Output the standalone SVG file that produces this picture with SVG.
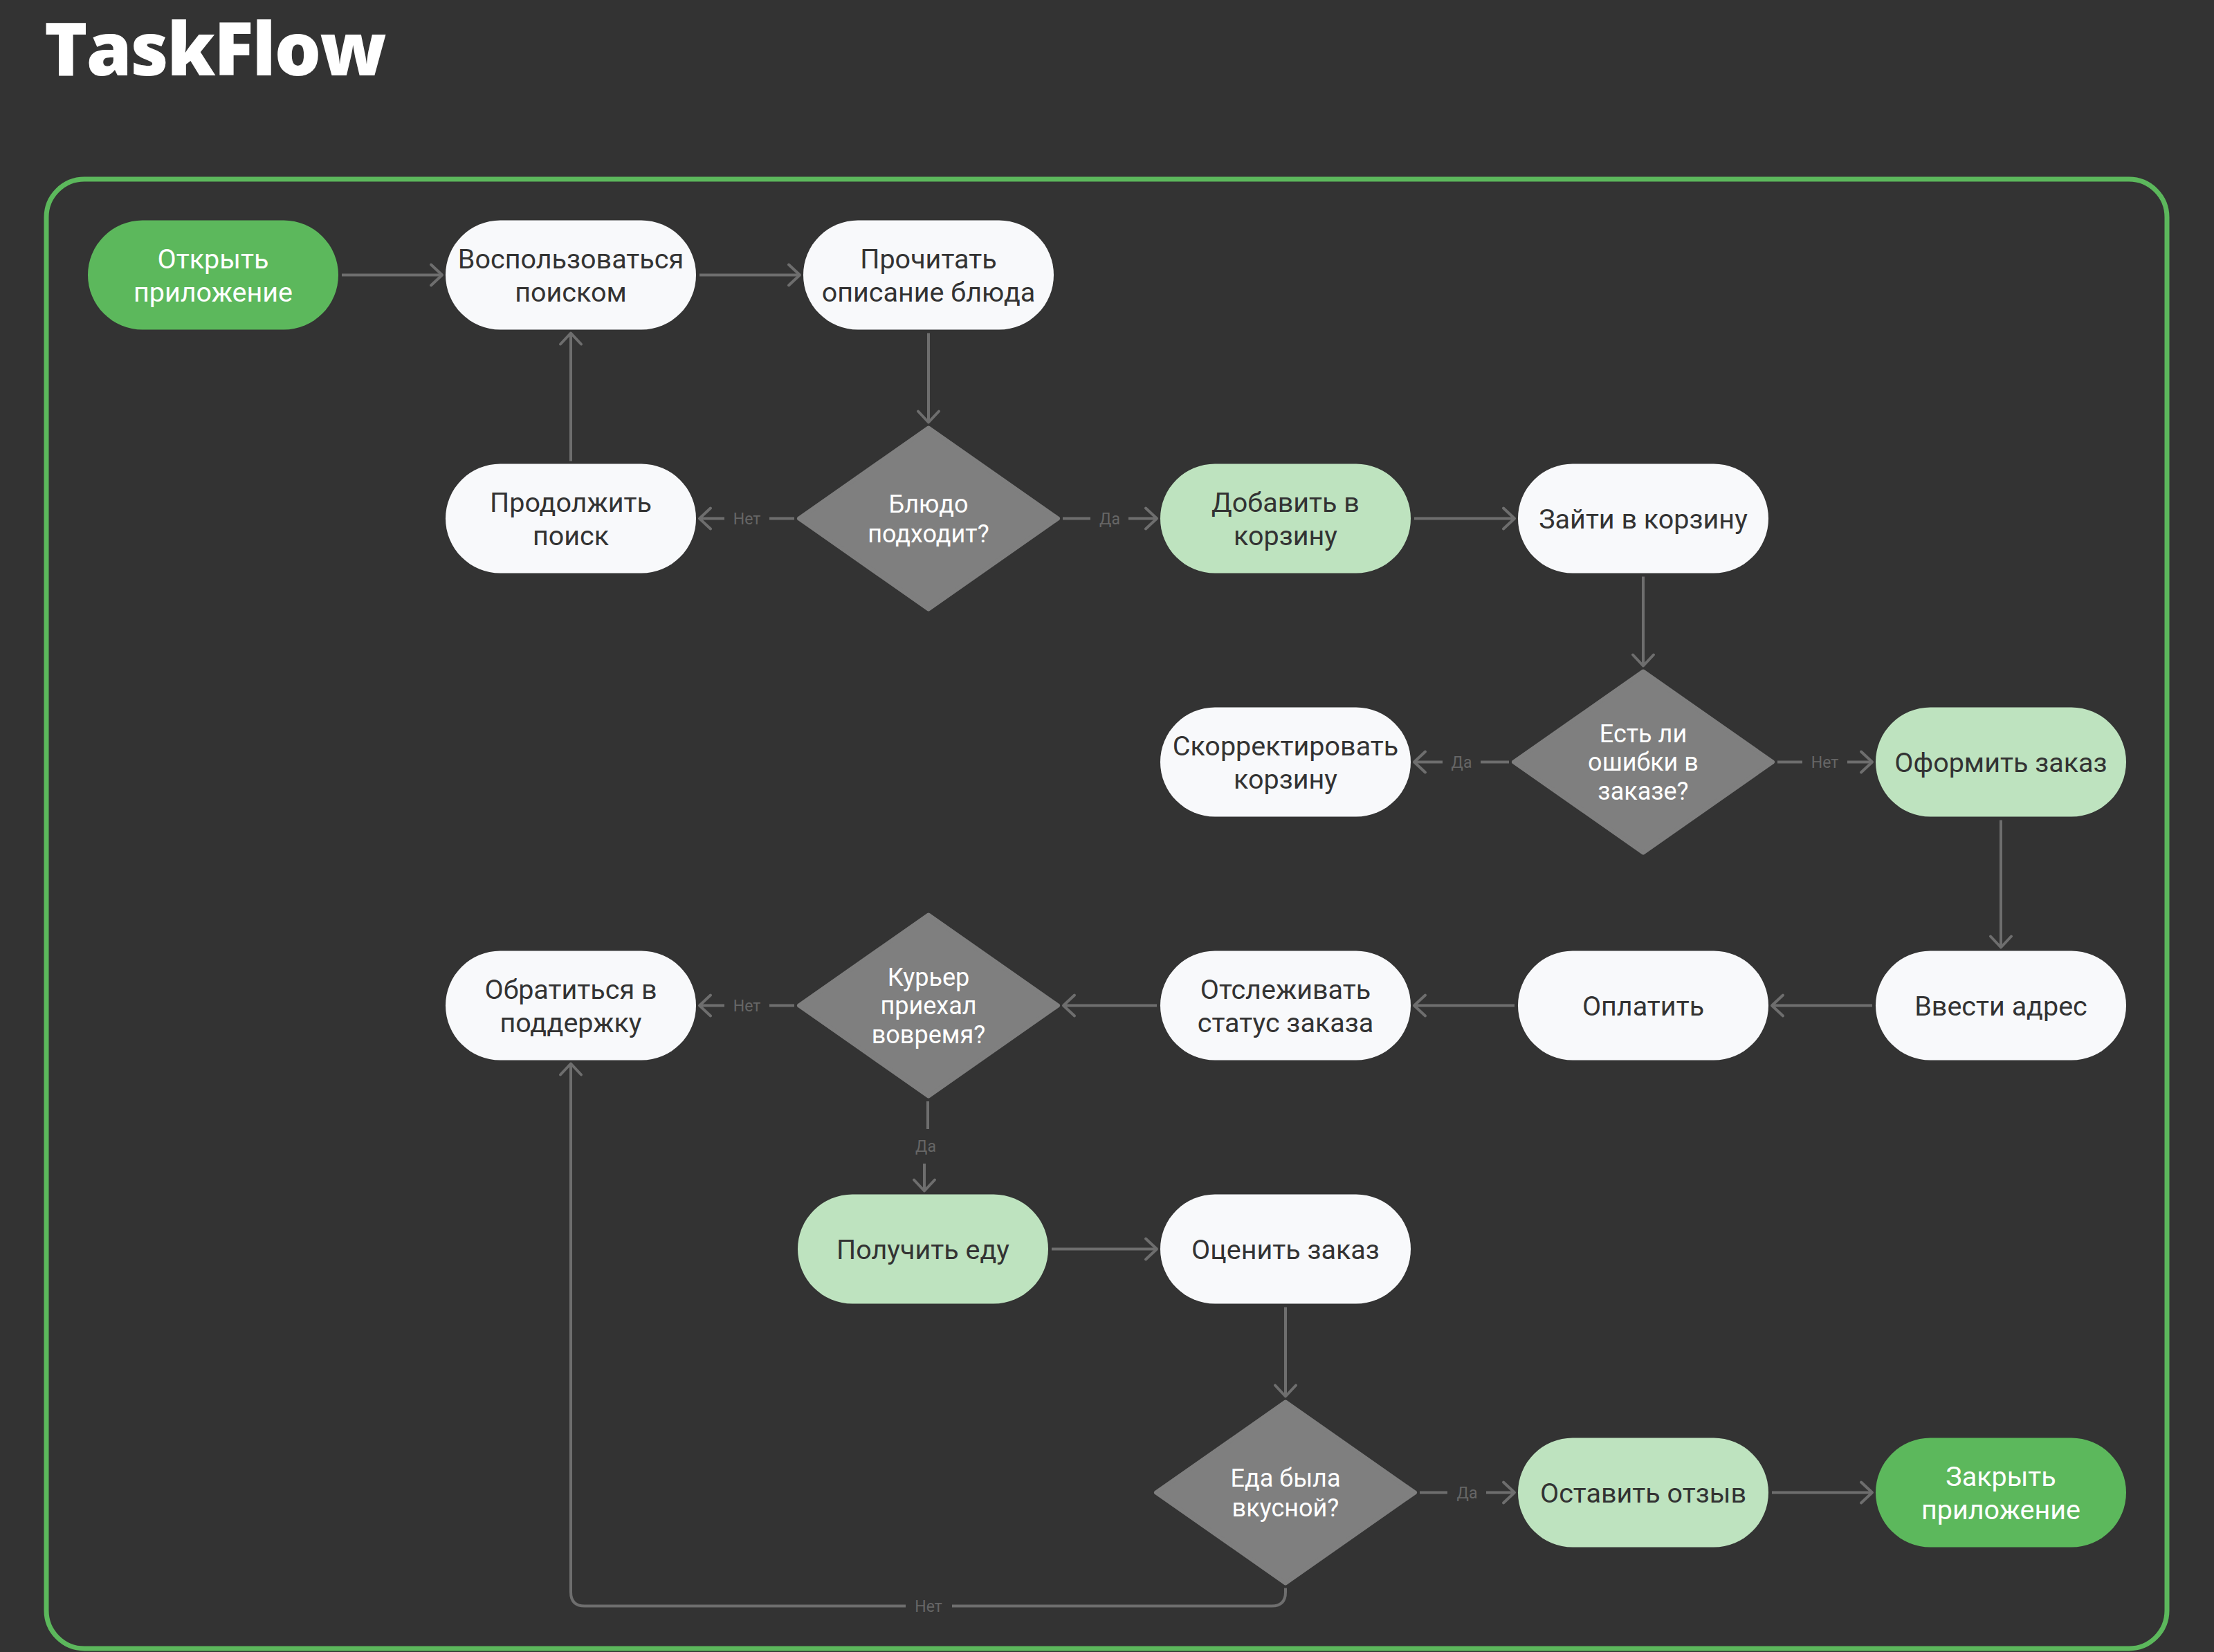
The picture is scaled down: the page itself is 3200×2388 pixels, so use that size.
<svg xmlns="http://www.w3.org/2000/svg" width="3200" height="2388" viewBox="0 0 3200 2388">
<defs>
<style>
.bg{fill:#333333}
.frame{fill:none;stroke:#5CB85C;stroke-width:7}
.title{font-family:"Open Sans","Noto Sans",sans-serif;font-weight:800;font-size:106px;letter-spacing:-2px;fill:#ffffff}
.n rect{stroke:none}
.white rect{fill:#F8F9FB}
.light rect{fill:#BEE3BF}
.dark rect{fill:#5CB85C}
.dia polygon{fill:#7F7F7F;stroke:#7F7F7F;stroke-width:6;stroke-linejoin:round}
.t{font-family:Roboto,"Noto Sans",sans-serif;font-size:39.5px;text-anchor:middle;fill:#333333}
.dark .t{fill:#ffffff}
.dt{font-family:Roboto,"Noto Sans",sans-serif;font-size:36px;text-anchor:middle;fill:#ffffff}
.c{fill:none;stroke:#6E6E6E;stroke-width:4}
.a{marker-end:url(#arr)}
.lbl{font-family:Roboto,"Noto Sans",sans-serif;font-size:23px;text-anchor:middle;fill:#666666}
</style>
<marker id="arr" markerUnits="userSpaceOnUse" viewBox="-20 -20 24 40" markerWidth="24" markerHeight="40" refX="0" refY="0" orient="auto" overflow="visible">
<path d="M-16,-15 L0,0 L-16,15" fill="none" stroke="#6E6E6E" stroke-width="4" stroke-linecap="round" stroke-linejoin="round"/>
</marker>
</defs>
<rect class="bg" x="0" y="0" width="3200" height="2388"/>
<text class="title" x="64" y="109">TaskFlow</text>
<rect class="frame" x="67" y="259" width="3065" height="2124" rx="55" ry="55"/>

<g id="connectors">
<line class="c a" x1="494" y1="397.5" x2="639" y2="397.5"/>
<line class="c a" x1="1011" y1="397.5" x2="1156" y2="397.5"/>
<line class="c a" x1="1342" y1="481.5" x2="1342" y2="610.5"/>
<line class="c" x1="1148" y1="749.5" x2="1112" y2="749.5"/>
<text class="lbl" x="1079.5" y="757.5">Нет</text>
<line class="c a" x1="1047" y1="749.5" x2="1011" y2="749.5"/>
<line class="c a" x1="825" y1="666.5" x2="825" y2="481.5"/>
<line class="c" x1="1536" y1="749.5" x2="1576" y2="749.5"/>
<text class="lbl" x="1604" y="757.5">Да</text>
<line class="c a" x1="1631" y1="749.5" x2="1672" y2="749.5"/>
<line class="c a" x1="2044" y1="749.5" x2="2189" y2="749.5"/>
<line class="c a" x1="2375" y1="833.5" x2="2375" y2="962.5"/>
<line class="c" x1="2181" y1="1101.5" x2="2140" y2="1101.5"/>
<text class="lbl" x="2112.5" y="1109.5">Да</text>
<line class="c a" x1="2085" y1="1101.5" x2="2044" y2="1101.5"/>
<line class="c" x1="2569" y1="1101.5" x2="2605" y2="1101.5"/>
<text class="lbl" x="2637.5" y="1109.5">Нет</text>
<line class="c a" x1="2670" y1="1101.5" x2="2706" y2="1101.5"/>
<line class="c a" x1="2892" y1="1185.5" x2="2892" y2="1369.5"/>
<line class="c a" x1="2706" y1="1453.5" x2="2561" y2="1453.5"/>
<line class="c a" x1="2189" y1="1453.5" x2="2044" y2="1453.5"/>
<line class="c a" x1="1672" y1="1453.5" x2="1537" y2="1453.5"/>
<line class="c" x1="1148" y1="1453.5" x2="1112" y2="1453.5"/>
<text class="lbl" x="1079.5" y="1461.5">Нет</text>
<line class="c a" x1="1047" y1="1453.5" x2="1011" y2="1453.5"/>
<line class="c" x1="1341" y1="1592" x2="1341" y2="1632"/>
<text class="lbl" x="1338" y="1665">Да</text>
<line class="c a" x1="1336" y1="1682" x2="1336" y2="1721.5"/>
<line class="c a" x1="1520" y1="1805.5" x2="1672" y2="1805.5"/>
<line class="c a" x1="1858" y1="1889.5" x2="1858" y2="2018.5"/>
<line class="c" x1="2052" y1="2157.5" x2="2092" y2="2157.5"/>
<text class="lbl" x="2120.5" y="2165.5">Да</text>
<line class="c a" x1="2148" y1="2157.5" x2="2189" y2="2157.5"/>
<line class="c a" x1="2561" y1="2157.5" x2="2706" y2="2157.5"/>
<path class="c" d="M1858,2295.5 V2301.5 Q1858,2321.5 1838,2321.5 H1376"/>
<text class="lbl" x="1342" y="2329.5">Нет</text>
<path class="c a" d="M1309,2321.5 H845 Q825,2321.5 825,2301.5 V1537.5"/>
</g>

<g id="n-open" class="n dark"><rect x="127" y="318.5" width="362" height="158" rx="79"/><text class="t" x="308" y="388">Открыть</text><text class="t" x="308" y="436">приложение</text></g>
<g id="n-search" class="n white"><rect x="644" y="318.5" width="362" height="158" rx="79"/><text class="t" x="825" y="388">Воспользоваться</text><text class="t" x="825" y="436">поиском</text></g>
<g id="n-read" class="n white"><rect x="1161" y="318.5" width="362" height="158" rx="79"/><text class="t" x="1342" y="388">Прочитать</text><text class="t" x="1342" y="436">описание блюда</text></g>

<g id="n-continue" class="n white"><rect x="644" y="670.5" width="362" height="158" rx="79"/><text class="t" x="825" y="740">Продолжить</text><text class="t" x="825" y="788">поиск</text></g>
<g id="d-fits" class="dia"><polygon points="1342,618.5 1529,749.5 1342,880.5 1155,749.5"/><text class="dt" x="1342" y="740.5">Блюдо</text><text class="dt" x="1342" y="783.5">подходит?</text></g>
<g id="n-add" class="n light"><rect x="1677" y="670.5" width="362" height="158" rx="79"/><text class="t" x="1858" y="740">Добавить в</text><text class="t" x="1858" y="788">корзину</text></g>
<g id="n-cart" class="n white"><rect x="2194" y="670.5" width="362" height="158" rx="79"/><text class="t" x="2375" y="763.5">Зайти в корзину</text></g>

<g id="n-fix" class="n white"><rect x="1677" y="1022.5" width="362" height="158" rx="79"/><text class="t" x="1858" y="1092">Скорректировать</text><text class="t" x="1858" y="1140">корзину</text></g>
<g id="d-errors" class="dia"><polygon points="2375,970.5 2562,1101.5 2375,1232.5 2188,1101.5"/><text class="dt" x="2375" y="1072.5">Есть ли</text><text class="dt" x="2375" y="1114">ошибки в</text><text class="dt" x="2375" y="1155.5">заказе?</text></g>
<g id="n-checkout" class="n light"><rect x="2711" y="1022.5" width="362" height="158" rx="79"/><text class="t" x="2892" y="1115.5">Оформить заказ</text></g>

<g id="n-support" class="n white"><rect x="644" y="1374.5" width="362" height="158" rx="79"/><text class="t" x="825" y="1444">Обратиться в</text><text class="t" x="825" y="1492">поддержку</text></g>
<g id="d-courier" class="dia"><polygon points="1342,1322.5 1529,1453.5 1342,1584.5 1155,1453.5"/><text class="dt" x="1342" y="1424.5">Курьер</text><text class="dt" x="1342" y="1466">приехал</text><text class="dt" x="1342" y="1507.5">вовремя?</text></g>
<g id="n-track" class="n white"><rect x="1677" y="1374.5" width="362" height="158" rx="79"/><text class="t" x="1858" y="1444">Отслеживать</text><text class="t" x="1858" y="1492">статус заказа</text></g>
<g id="n-pay" class="n white"><rect x="2194" y="1374.5" width="362" height="158" rx="79"/><text class="t" x="2375" y="1467.5">Оплатить</text></g>
<g id="n-address" class="n white"><rect x="2711" y="1374.5" width="362" height="158" rx="79"/><text class="t" x="2892" y="1467.5">Ввести адрес</text></g>

<g id="n-receive" class="n light"><rect x="1153" y="1726.5" width="362" height="158" rx="79"/><text class="t" x="1334" y="1819.5">Получить еду</text></g>
<g id="n-rate" class="n white"><rect x="1677" y="1726.5" width="362" height="158" rx="79"/><text class="t" x="1858" y="1819.5">Оценить заказ</text></g>

<g id="d-tasty" class="dia"><polygon points="1858,2026.5 2045,2157.5 1858,2288.5 1671,2157.5"/><text class="dt" x="1858" y="2148.5">Еда была</text><text class="dt" x="1858" y="2191.5">вкусной?</text></g>
<g id="n-review" class="n light"><rect x="2194" y="2078.5" width="362" height="158" rx="79"/><text class="t" x="2375" y="2171.5">Оставить отзыв</text></g>
<g id="n-close" class="n dark"><rect x="2711" y="2078.5" width="362" height="158" rx="79"/><text class="t" x="2892" y="2148">Закрыть</text><text class="t" x="2892" y="2196">приложение</text></g>
</svg>
